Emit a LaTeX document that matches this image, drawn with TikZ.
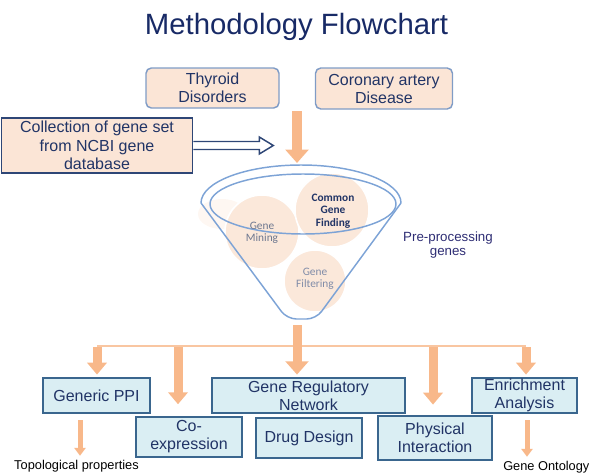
\documentclass[tikz,border=0pt]{standalone}
\usepackage{fontspec}
\setmainfont{Liberation Sans}
\newfontfamily\funnelfont{Carlito}
\usetikzlibrary{arrows.meta,calc,positioning}

\definecolor{titleblue}{RGB}{24,42,102}
\definecolor{navytext}{RGB}{33,52,102}
\definecolor{peach}{RGB}{251,229,214}
\definecolor{peachline}{RGB}{128,156,198}
\definecolor{collline}{RGB}{46,70,118}
\definecolor{orangearr}{RGB}{248,184,138}
\definecolor{lightblue}{RGB}{218,238,243}
\definecolor{blueline}{RGB}{58,102,142}
\definecolor{funnelline}{RGB}{125,163,214}
\definecolor{circlefill}{RGB}{251,232,218}
\definecolor{greytext}{RGB}{128,140,168}
\definecolor{purpletext}{RGB}{46,45,116}

\tikzset{
  diseasebox/.style={draw=peachline, fill=peach, rounded corners=4pt, line width=1.1pt, text=navytext,
    align=center, inner sep=0pt, font=\fontsize{12}{13.5}\selectfont},
  collbox/.style={draw=collline, fill=peach, line width=1.2pt, text=navytext,
    align=center, inner sep=0pt, font=\fontsize{12}{14}\selectfont},
  methodbox/.style={draw=blueline, fill=lightblue, line width=1.1pt, text=navytext,
    align=center, inner sep=0pt, font=\fontsize{12}{13.5}\selectfont},
  bigarrow/.style={draw=orangearr, line width=6.75pt, -{Triangle[length=9pt,width=14.5pt]}},
  toparrow/.style={draw=orangearr, line width=8pt, -{Triangle[length=10pt,width=17pt]}},
  smallarrow/.style={draw=orangearr, line width=3.75pt, -{Triangle[length=6pt,width=8.5pt]}},
  busline/.style={draw=orangearr!80, line width=0.8pt},
  hollowarrow/.style={draw=collline, fill=white, line width=1.1pt, line join=miter},
  funnel/.style={draw=funnelline, line width=1.1pt},
  funnelcircle/.style={fill=circlefill, draw=white, line width=1.2pt},
  funneltext/.style={align=center, inner sep=0pt, font=\funnelfont\fontsize{8.5}{9}\selectfont},
  smalllabel/.style={inner sep=0pt, text=black, font=\fontsize{9.6}{11}\selectfont}
}

\begin{document}
\begin{tikzpicture}[x=0.75pt, y=-0.75pt]
  \useasboundingbox (0,0) rectangle (592,475);

  \node[text=titleblue, font=\fontsize{22}{26}\selectfont] (title) at (296.5,27) {Methodology Flowchart};

  % inputs
  \node[diseasebox, minimum width=99.75pt, minimum height=30pt] (thyroid) at (212.5,88) {Thyroid\\Disorders};
  \node[diseasebox, minimum width=102.75pt, minimum height=30.75pt] (coronary) at (384,88.5) {Coronary artery\\Disease};
  \node[collbox, minimum width=143.25pt, minimum height=41.25pt] (coll) at (97,145.5) {Collection of gene set\\from NCBI gene\\database};

  \coordinate (ncbi tip) at ($(coll.east)+(80,0)$);
  \draw[hollowarrow] ($(coll.east)+(0,-4)$) -- ++(66,0) -- ++(0,-4.5) -- (ncbi tip)
        -- ($(ncbi tip)+(-14,8.5)$) -- ++(0,-4.5) -- ($(coll.east)+(0,4)$);

  \coordinate (feed) at (297,111);
  \coordinate (ftop) at (297,163);
  \draw[toparrow] (feed) -- (ftop);

  % funnel
  \fill[circlefill!35] (222,214) ellipse[x radius=24, y radius=15];
  \fill[funnelcircle] (262,232) circle[radius=37];
  \fill[funnelcircle] (315,281) circle[radius=31];
  \fill[funnelcircle] (332,210) circle[radius=37];
  \draw[funnelcircle] (262,232) circle[radius=37];
  \draw[funnelcircle] (332,210) circle[radius=37];
  \draw[funnel] (201,203) arc[start angle=180, end angle=360, x radius=100, y radius=38];
  \draw[funnel, rounded corners=7pt] (401,203) -- (316,319) -- (287,319) -- (201,203);
  \draw[funnel] (303,204) ellipse[x radius=93, y radius=30];

  \node[funneltext, text=greytext!85!black] (mining) at (262,233) {Gene\\Mining};
  \node[funneltext, text=navytext, font=\funnelfont\bfseries\fontsize{8.5}{9.2}\selectfont] (common) at (333,211) {Common\\Gene\\Finding};
  \node[funneltext, text=greytext] (filtering) at (315,279) {Gene\\Filtering};

  \node[align=center, inner sep=0pt, text=purpletext, font=\fontsize{10}{10}\selectfont] (pre) at (448,245) {Pre-processing\\genes};

  % methods
  \node[methodbox, minimum width=80.25pt, minimum height=26.25pt] (ppi) at (96.5,395.5) {Generic PPI};
  \node[methodbox, minimum width=79.5pt, minimum height=30pt] (coexp) at (189,437) {Co-\\expression};
  \node[methodbox, minimum width=144.75pt, minimum height=26.25pt] (grn) at (308.5,395.5) {Gene Regulatory\\Network};
  \node[methodbox, minimum width=79.5pt, minimum height=30pt] (drug) at (309,438) {Drug Design};
  \node[methodbox, minimum width=85.5pt, minimum height=33pt] (phys) at (435,438) {Physical\\Interaction};
  \node[methodbox, minimum width=78.75pt, minimum height=26.25pt] (enrich) at (524.5,395.5) {Enrichment\\Analysis};

  \coordinate (bus w) at (97,346);
  \coordinate (bus coexp) at (178,346);
  \coordinate (bus phys) at (433,346);
  \coordinate (bus e) at (526,346);
  \coordinate (fbot) at (297,325);
  \draw[busline] (bus w) -- (bus e);

  \draw[toparrow, line width=6.75pt, shorten >=2pt] (fbot) -- (fbot |- grn.north);
  \draw[bigarrow, shorten <=1pt, shorten >=2pt] (bus w) -- (bus w |- ppi.north);
  \draw[bigarrow, shorten <=1pt, shorten >=9pt] (bus coexp) -- (bus coexp |- coexp.north);
  \draw[bigarrow, shorten <=1pt, shorten >=8pt] (bus phys) -- (bus phys |- phys.north);
  \draw[bigarrow, shorten <=1pt, shorten >=2pt] (bus e) -- (bus e |- enrich.north);

  % results
  \node[smalllabel] (topo) at (76.5,466) {Topological properties};
  \node[smalllabel, anchor=west] (onto) at (503,467) {Gene Ontology};
  \coordinate (topo arrow) at (80,420);
  \coordinate (onto arrow) at (527,420);
  \draw[smallarrow, shorten >=3pt] (topo arrow) -- (topo arrow |- topo.north);
  \draw[smallarrow, shorten >=3pt] (onto arrow) -- (onto arrow |- onto.north);
\end{tikzpicture}
\end{document}
